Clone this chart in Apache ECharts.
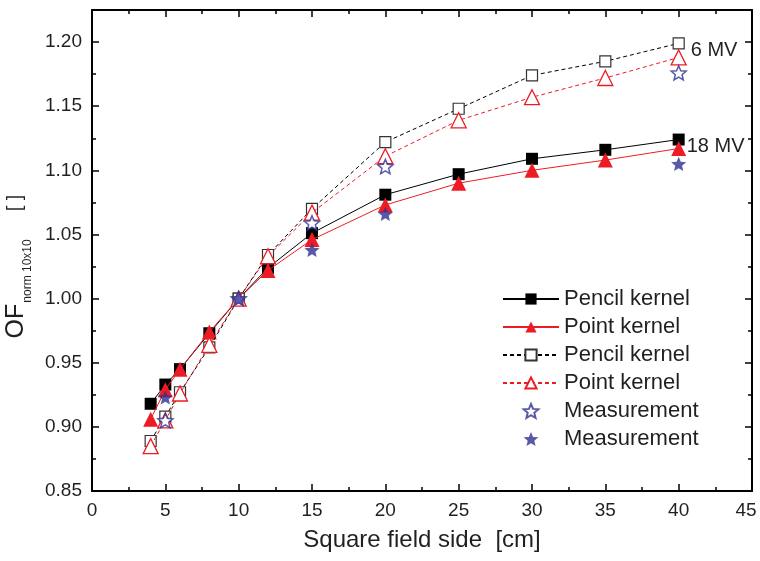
<!DOCTYPE html>
<html>
<head>
<meta charset="utf-8">
<script src="https://cdn.jsdelivr.net/npm/echarts@6/dist/echarts.min.js"></script>
<style>html,body{margin:0;padding:0;background:#fff}#chart{width:760px;height:561px}</style>
</head>
<body>
<div id="chart"></div>
<script>
// Data
const fieldSides = [4, 5, 6, 8, 10, 12, 15, 20, 25, 30, 35, 40];
const pencil18 = [0.918, 0.933, 0.945, 0.973, 1.000, 1.024, 1.051, 1.081, 1.097, 1.109, 1.116, 1.124];
const point18  = [0.906, 0.929, 0.945, 0.974, 1.000, 1.022, 1.046, 1.073, 1.090, 1.100, 1.108, 1.117];
const pencil6  = [0.889, 0.908, 0.927, 0.962, 1.000, 1.034, 1.070, 1.122, 1.148, 1.174, 1.185, 1.199];
const point6   = [0.885, 0.905, 0.926, 0.964, 1.000, 1.033, 1.067, 1.111, 1.139, 1.157, 1.172, 1.188];
const measSides = [5, 10, 15, 20, 40];
const meas6  = [0.905, 1.000, 1.059, 1.103, 1.176];
const meas18 = [0.923, 1.000, 1.038, 1.066, 1.105];
const xTicks = [0, 5, 10, 15, 20, 25, 30, 35, 40, 45];
const yTicks = [0.85, 0.90, 0.95, 1.00, 1.05, 1.10, 1.15, 1.20];

const FONT = 'Liberation Sans, Arial, sans-serif';
const TXT = '#231f20';
const RED = '#ed1c24';
const BLUE = '#2e3192';
const STAR = 'path://M100,0 L126.45,63.6 L195.1,69.1 L142.8,113.9 L158.8,180.9 L100,145 L41.2,180.9 L57.2,113.9 L4.9,69.1 L73.55,63.6 Z';

function pairs(xs, ys, endLabel, dist) {
  return xs.map((x, i) => {
    const item = { value: [x, ys[i]] };
    if (endLabel && i === xs.length - 1) {
      item.label = { show: true, formatter: endLabel, position: 'right', distance: dist, offset: [0, 7],
        fontSize: 20, fontFamily: FONT, color: TXT };
    }
    return item;
  });
}

const legendNames = {
  'p18': 'Pencil kernel', 'k18': 'Point kernel', 'p6': 'Pencil kernel', 'k6': 'Point kernel',
  'm6': 'Measurement', 'm18': 'Measurement'
};

const chart = echarts.init(document.getElementById('chart'));

function baseAxis(extra) {
  return Object.assign({
    type: 'value',
    axisLine: { show: true, onZero: false, lineStyle: { color: '#000', width: 2 } },
    axisTick: { show: true, inside: true, length: 7, lineStyle: { color: '#000', width: 1.5 } },
    minorTick: { show: true, splitNumber: 2, length: 4, lineStyle: { color: '#000', width: 1.5 } },
    splitLine: { show: false },
    minorSplitLine: { show: false }
  }, extra);
}

const xMax = xTicks[xTicks.length - 1];

const option = {
  backgroundColor: '#fff',
  animation: false,
  grid: { left: 92, right: 8, top: 10, bottom: 70, containLabel: false, outerBoundsMode: 'none' },
  xAxis: [
    baseAxis({
      position: 'bottom', min: xTicks[0], max: xMax, interval: 5,
      axisLabel: { fontSize: 19, fontFamily: FONT, color: TXT, margin: 10,
        formatter: v => (v === xMax ? '{e|' + v + '}' : String(v)),
        rich: { e: { fontSize: 19, fontFamily: FONT, color: TXT, padding: [0, 12, 0, 0] } } },
      name: 'Square field side  [cm]', nameLocation: 'middle', nameGap: 37,
      nameTextStyle: { fontSize: 24, fontFamily: FONT, color: TXT }
    }),
    baseAxis({
      position: 'top', min: xTicks[0], max: xMax, interval: 5,
      axisLabel: { show: false }
    })
  ],
  yAxis: [
    baseAxis({
      position: 'left', min: yTicks[0], max: 1.225, interval: 0.05,
      axisLabel: { fontSize: 19, fontFamily: FONT, color: TXT, margin: 10,
        formatter: v => (v > 1.21 ? '' : v.toFixed(2)) },
      name: '{a|OF}{b|norm 10x10}{c|[ ]}', nameLocation: 'middle', nameGap: 58, nameRotate: 90,
      nameTextStyle: {
        fontFamily: FONT, color: TXT,
        rich: {
          a: { fontSize: 25, fontFamily: FONT, color: TXT },
          b: { fontSize: 12, fontFamily: FONT, color: TXT, verticalAlign: 'bottom', padding: [0, 0, -6, 1] },
          c: { fontSize: 20, fontFamily: FONT, color: TXT, padding: [0, 32, 0, 28] }
        }
      }
    }),
    baseAxis({
      position: 'right', min: yTicks[0], max: 1.225, interval: 0.05,
      axisLabel: { show: false }
    })
  ],
  legend: {
    orient: 'vertical', left: 497, top: 283,
    itemWidth: 56, itemHeight: 14, itemGap: 6,
    textStyle: { fontSize: 22, fontFamily: FONT, color: TXT, lineHeight: 22, padding: [0, 0, 0, 0] },
    formatter: name => legendNames[name],
    data: ['p18', 'k18', 'p6', 'k6', 'm6', 'm18']
  },
  series: [
    {
      name: 'p18', type: 'line', data: pairs(fieldSides, pencil18, '18 MV', 2),
      symbol: 'rect', symbolSize: 12,
      lineStyle: { color: '#000', width: 1 },
      itemStyle: { color: '#000' }, z: 2
    },
    {
      name: 'k18', type: 'line', data: pairs(fieldSides, point18),
      symbol: 'triangle', symbolSize: 15,
      lineStyle: { color: RED, width: 1 },
      itemStyle: { color: RED }, z: 3
    },
    {
      name: 'p6', type: 'line', data: pairs(fieldSides, pencil6, '6 MV', 6),
      symbol: 'rect', symbolSize: 11,
      lineStyle: { color: '#000', width: 1, type: [4, 3] },
      itemStyle: { color: '#fff', borderColor: '#333', borderWidth: 1.2 }, z: 4
    },
    {
      name: 'k6', type: 'line', data: pairs(fieldSides, point6),
      symbol: 'triangle', symbolSize: 15,
      lineStyle: { color: RED, width: 1, type: [4, 3] },
      itemStyle: { color: '#fff', borderColor: RED, borderWidth: 1.3 }, z: 5
    },
    {
      name: 'm6', type: 'scatter', data: pairs(measSides, meas6),
      symbol: STAR, symbolSize: 15, symbolKeepAspect: true,
      itemStyle: { color: '#fff', borderColor: BLUE, borderWidth: 1.5 }, z: 6
    },
    {
      name: 'm18', type: 'scatter', data: pairs(measSides, meas18),
      symbol: STAR, symbolSize: 15, symbolKeepAspect: true,
      itemStyle: { color: BLUE }, z: 7
    }
  ]
};
chart.setOption(option);
</script>
</body>
</html>
